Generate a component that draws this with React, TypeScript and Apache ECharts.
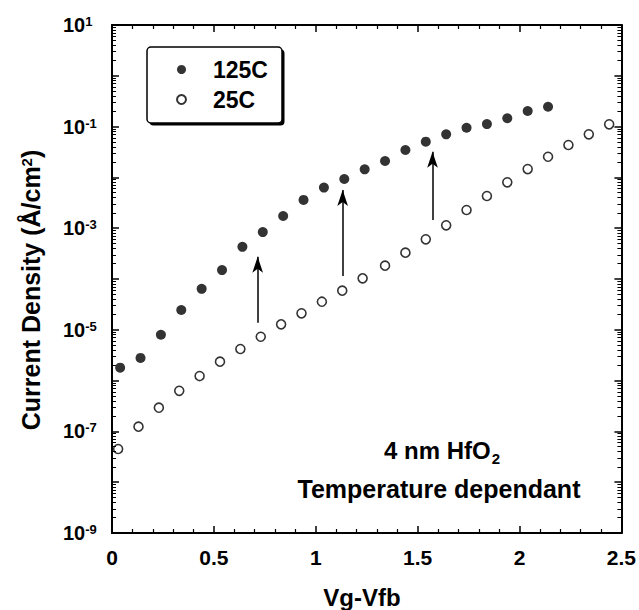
import React, { useEffect, useRef } from "react";
import * as echarts from "echarts";

// ---- data ----
const x125: number[] = [0.04, 0.14, 0.24, 0.34, 0.44, 0.54, 0.64, 0.74, 0.84, 0.94, 1.04, 1.14, 1.24, 1.34, 1.44, 1.54, 1.64, 1.74, 1.84, 1.94, 2.04, 2.14];
const y125: number[] = [1.8e-6, 2.8e-6, 8.0e-6, 2.45e-5, 6.4e-5, 1.5e-4, 4.3e-4, 8.4e-4, 1.74e-3, 3.6e-3, 6.3e-3, 9.3e-3, 0.0144, 0.021, 0.0346, 0.0505, 0.0705, 0.095, 0.112, 0.146, 0.203, 0.246];

const x25: number[] = [0.03, 0.13, 0.23, 0.33, 0.43, 0.53, 0.63, 0.73, 0.83, 0.93, 1.03, 1.13, 1.23, 1.34, 1.44, 1.54, 1.64, 1.74, 1.84, 1.94, 2.04, 2.14, 2.24, 2.34, 2.44];
const y25: number[] = [4.5e-8, 1.24e-7, 2.93e-7, 6.3e-7, 1.23e-6, 2.36e-6, 4.19e-6, 7.3e-6, 1.28e-5, 2.11e-5, 3.57e-5, 5.9e-5, 1.03e-4, 1.83e-4, 3.3e-4, 6.04e-4, 1.14e-3, 2.28e-3, 4.3e-3, 8.0e-3, 0.0146, 0.0255, 0.0434, 0.0705, 0.111];

// arrows: x, from (bottom), to (top)
const arrowX: number[] = [0.715, 1.132, 1.573];
const arrowFrom: number[] = [1.38e-5, 1.15e-4, 1.45e-3];
const arrowTo: number[] = [2.75e-4, 5.65e-3, 0.032];

const seriesNames: string[] = ["125C", "25C"];
const xTickLabels: string[] = ["0", "0.5", "1", "1.5", "2", "2.5"];
const xMajorTicks: number[] = [0, 0.5, 1, 1.5, 2, 2.5];
const xMinorTicks: number[] = [0.1, 0.2, 0.3, 0.4, 0.6, 0.7, 0.8, 0.9, 1.1, 1.2, 1.3, 1.4, 1.6, 1.7, 1.8, 1.9, 2.1, 2.2, 2.3, 2.4];
const yLabelExponents: number[] = [1, -1, -3, -5, -7, -9];
const yMajorExponents: number[] = [-9, -8, -7, -6, -5, -4, -3, -2, -1, 0, 1];
const decades: number[] = [-9, -8, -7, -6, -5, -4, -3, -2, -1, 0];
const minorMultipliers: number[] = [2, 3, 4, 5, 6, 7, 8, 9];

const FONT = "'Liberation Sans', Arial, Helvetica, sans-serif";
const W = 639;
const H = 610;
const GRID = { left: 112, right: 16, top: 25, bottom: 77 };
const X_MIN = 0;
const X_MAX = 2.5;
const Y_MIN = 1e-9;
const Y_MAX = 10;

const mkAxisLine = () => ({ show: true, onZero: false, lineStyle: { color: "#000", width: 2 } });

const mkXAxis = (pos: string, labels: boolean): any => ({
  type: "value",
  min: X_MIN,
  max: X_MAX,
  interval: 0.5,
  position: pos,
  axisLine: mkAxisLine(),
  axisTick: { show: false },
  splitLine: { show: false },
  axisLabel: labels
    ? {
        margin: 14,
        color: "#000",
        fontSize: 21,
        fontWeight: "bold",
        fontFamily: FONT,
        formatter: (v: number) => xTickLabels[Math.round(v / 0.5)] ?? String(v),
      }
    : { show: false },
});

const mkYAxis = (pos: string, labels: boolean): any => ({
  type: "log",
  logBase: 10,
  min: Y_MIN,
  max: Y_MAX,
  interval: 1,
  position: pos,
  axisLine: mkAxisLine(),
  axisTick: { show: false },
  splitLine: { show: false },
  axisLabel: labels
    ? {
        margin: 49,
        align: "left",
        color: "#000",
        formatter: (v: number) => {
          const e = Math.round(Math.log10(v));
          return yLabelExponents.indexOf(e) >= 0 ? `{b|10}{s|${e}}` : "";
        },
        rich: {
          b: { fontSize: 20, fontWeight: "bold", fontFamily: FONT, color: "#000" },
          s: { fontSize: 13, fontWeight: "bold", fontFamily: FONT, color: "#000", verticalAlign: "top" },
        },
      }
    : { show: false },
});

export default function App() {
  const ref = useRef<HTMLDivElement>(null);

  useEffect(() => {
    if (!ref.current) return;
    const chart = echarts.init(ref.current, null, { renderer: "svg" });

    // tick lengths in pixels, converted to data units of the axes
    const plotW = W - GRID.left - GRID.right;
    const plotH = H - GRID.top - GRID.bottom;
    const decadesSpan = Math.log10(Y_MAX) - Math.log10(Y_MIN);
    const dx = (px: number) => (px / plotW) * (X_MAX - X_MIN);
    const fy = (px: number) => Math.pow(10, (px / plotH) * decadesSpan);
    const MAJ = 7;
    const MIN = 4;

    const seg = (a: number[], b: number[], width: number) => [
      { coord: a, lineStyle: { width } },
      { coord: b },
    ];
    const ticks: any[] = [];
    xMajorTicks.forEach((x) => {
      ticks.push(seg([x, Y_MIN], [x, Y_MIN * fy(MAJ)], 1.5));
      ticks.push(seg([x, Y_MAX], [x, Y_MAX / fy(MAJ)], 1.5));
    });
    xMinorTicks.forEach((x) => {
      ticks.push(seg([x, Y_MIN], [x, Y_MIN * fy(MIN)], 1.2));
      ticks.push(seg([x, Y_MAX], [x, Y_MAX / fy(MIN)], 1.2));
    });
    yMajorExponents.forEach((e) => {
      const v = Math.pow(10, e);
      ticks.push(seg([X_MIN, v], [X_MIN + dx(MAJ), v], 1.5));
      ticks.push(seg([X_MAX, v], [X_MAX - dx(MAJ), v], 1.5));
    });
    decades.forEach((d) =>
      minorMultipliers.forEach((m) => {
        const v = m * Math.pow(10, d);
        ticks.push(seg([X_MIN, v], [X_MIN + dx(MIN), v], 1));
        ticks.push(seg([X_MAX, v], [X_MAX - dx(MIN), v], 1));
      })
    );

    const option: any = {
      animation: false,
      backgroundColor: "#fff",
      textStyle: { fontFamily: FONT },
      grid: { ...GRID },
      xAxis: [mkXAxis("bottom", true), mkXAxis("top", false)],
      yAxis: [mkYAxis("left", true), mkYAxis("right", false)],
      legend: {
        data: seriesNames,
        orient: "vertical",
        left: 176,
        top: 58,
        padding: 0,
        itemWidth: 9,
        itemHeight: 9,
        itemGap: 7,
        icon: "circle",
        selectedMode: false,
        textStyle: { color: "#000", fontSize: 23, fontWeight: "bold", fontFamily: FONT, lineHeight: 23, padding: [0, 0, 0, 22] },
      },
      graphic: [
        { type: "rect", z: 1, shape: { x: 149.5, y: 49.5, width: 135, height: 76, r: 4 }, style: { fill: "#000" } },
        { type: "rect", z: 2, shape: { x: 147, y: 47, width: 135, height: 76, r: 4 }, style: { fill: "#fff", stroke: "#000", lineWidth: 1.5 } },
        {
          type: "text",
          z: 5,
          x: 31,
          y: 290,
          rotation: Math.PI / 2,
          style: {
            text: "{t|Current Density (Å/cm}{u|2}{t|)}",
            align: "center",
            verticalAlign: "middle",
            rich: {
              t: { fontSize: 25, fontWeight: "bold", fontFamily: FONT, fill: "#000" },
              u: { fontSize: 15, fontWeight: "bold", fontFamily: FONT, fill: "#000", verticalAlign: "top" },
            },
          },
        },
        {
          type: "text",
          z: 5,
          x: 362,
          y: 597,
          style: { text: "Vg-Vfb", align: "center", verticalAlign: "middle", fontSize: 24, fontWeight: "bold", fontFamily: FONT, fill: "#000" },
        },
        {
          type: "text",
          z: 5,
          x: 442,
          y: 452,
          style: {
            text: "{m|4 nm HfO}{d|2}",
            align: "center",
            verticalAlign: "middle",
            rich: {
              m: { fontSize: 24, fontWeight: "bold", fontFamily: FONT, fill: "#000", lineHeight: 28, verticalAlign: "top" },
              d: { fontSize: 15, fontWeight: "bold", fontFamily: FONT, fill: "#000", lineHeight: 28, verticalAlign: "bottom", padding: [12, 0, 0, 1] },
            },
          },
        },
        {
          type: "text",
          z: 5,
          x: 439,
          y: 489,
          style: { text: "Temperature dependant", align: "center", verticalAlign: "middle", fontSize: 25, fontWeight: "bold", fontFamily: FONT, fill: "#000" },
        },
      ],
      series: [
        {
          name: seriesNames[0],
          type: "scatter",
          symbol: "circle",
          symbolSize: 10,
          itemStyle: { color: "#000" },
          data: x125.map((x, i) => [x, y125[i]]),
          markLine: {
            silent: true,
            symbol: ["none", "arrow"],
            symbolSize: [8, 16],
            label: { show: false },
            lineStyle: { color: "#000", width: 1.5, type: "solid" },
            data: arrowX.map((x, i) => [
              { coord: [x, arrowFrom[i]] },
              { coord: [x, arrowTo[i]] },
            ]),
          },
        },
        {
          name: seriesNames[1],
          type: "scatter",
          symbol: "circle",
          symbolSize: 9,
          clip: false,
          itemStyle: { color: "#fff", borderColor: "#000", borderWidth: 1.6 },
          data: x25.map((x, i) => [x, y25[i]]),
          markLine: {
            silent: true,
            symbol: ["none", "none"],
            label: { show: false },
            emphasis: { disabled: true },
            lineStyle: { color: "#000", width: 1.2, type: "solid", opacity: 1 },
            data: ticks,
          },
        },
      ],
    };

    chart.setOption(option);
    return () => chart.dispose();
  }, []);

  return (
    <div
      ref={ref}
      style={{ position: "fixed", left: 0, top: 0, width: W, height: H, background: "#fff" }}
    />
  );
}
